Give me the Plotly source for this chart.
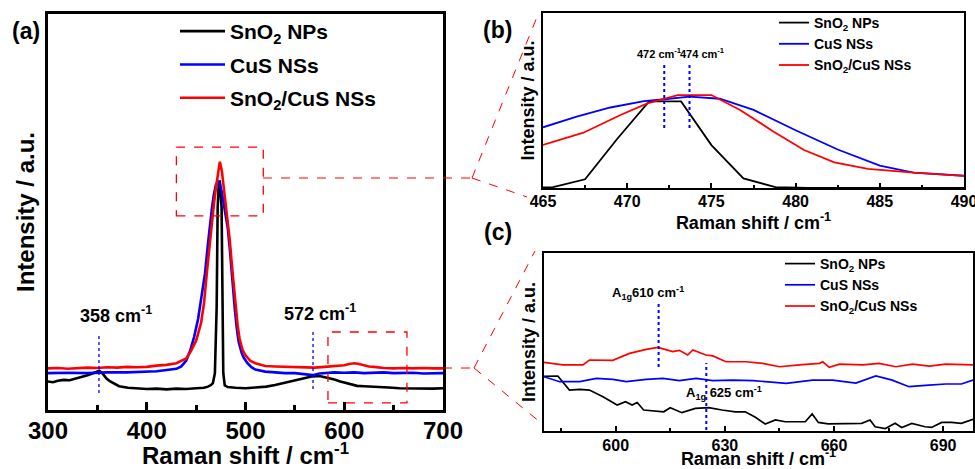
import plotly.graph_objects as go

W, H = 975, 469
FONT = "Liberation Sans, Arial, sans-serif"
BLACK, BLUE, RED = "#000000", "#0000ff", "#ff0000"


def fx(p):
    return p / W


def fy(p):
    return 1 - p / H


# ---------------- data: panel (a) ----------------
names = ["SnO<sub>2</sub> NPs", "CuS NSs", "SnO<sub>2</sub>/CuS NSs"]

a_black_x = [300, 305, 310, 316, 322, 330, 335, 340, 345, 350, 352, 356, 359, 363, 367, 372, 381, 390, 400,
             410, 420, 430, 440, 450, 458, 462, 465, 467, 469, 470.8, 471.8, 473, 474, 475.8, 476.5, 477.5,
             479, 482, 490, 500, 510, 521, 530, 540, 545, 555, 562, 568, 575, 582, 590, 596, 605, 613, 620,
             636, 645, 656, 670, 680, 690, 700]
a_black_y = [7.2, 7.0, 7.4, 7.6, 7.5, 8.0, 8.3, 8.8, 9.2, 9.8, 9.9, 9.0, 8.0, 7.2, 6.6, 6.0, 5.6, 5.4, 5.3,
             5.4, 5.2, 5.4, 5.3, 5.5, 5.6, 5.9, 6.3, 6.8, 9.3, 26, 51, 57.7, 57.7, 51, 26, 9.3,
             6.2, 5.8, 5.6, 5.5, 5.7, 5.9, 6.3, 6.9, 7.2, 7.8, 8.2, 8.5, 8.6, 8.2, 7.7, 7.2, 6.6, 6.1, 6.0,
             5.9, 5.7, 5.5, 5.4, 5.5, 5.4, 5.5]

a_blue_x = [300, 320, 340, 360, 380, 400, 410, 420, 430, 435, 440, 444, 448, 452, 456, 459, 462, 464, 466,
            468, 470, 472, 474, 476, 478, 480, 482, 484, 486, 489, 491, 493, 496, 498, 502, 506, 510, 520,
            530, 540, 550, 560, 568, 575, 582, 590, 600, 610, 620, 630, 640, 650, 660, 670, 680, 690, 700]
a_blue_y = [9.3, 9.4, 9.3, 9.5, 9.5, 9.6, 9.8, 10.1, 10.4, 11.0, 12.5, 15.0, 18.5, 23, 29, 34.5, 42, 47, 51,
            54.5, 56.8, 57.7, 57.2, 55, 52, 49, 46, 41, 34.5, 26, 21, 17.3, 14.5, 13.3, 11.8, 10.8, 10.2, 9.7,
            9.5, 9.3, 9.3, 9.0, 8.8, 9.2, 9.4, 9.5, 9.4, 9.5, 9.3, 9.4, 9.5, 9.3, 9.3, 9.4, 9.2, 9.3, 9.3]

a_red_x = [300, 310, 320, 330, 340, 350, 360, 370, 380, 390, 400, 410, 420, 430, 440, 445, 450, 455, 458,
           461, 464, 466, 468, 470, 472, 474, 476, 478, 480, 482, 484, 487, 490, 492, 494, 497, 500, 505,
           510, 520, 530, 540, 550, 560, 570, 580, 590, 600, 605, 610, 615, 620, 625, 630, 640, 650, 660,
           670, 680, 690, 700]
a_red_y = [10.5, 10.6, 10.4, 10.6, 10.7, 10.6, 10.8, 10.7, 10.9, 10.8, 10.9, 11.2, 11.4, 11.8, 13.0, 15.0,
           17.5, 22, 27, 35, 43, 47.5, 52, 56, 60, 62.7, 60.5, 56, 51.5, 47.5, 43, 34.5, 26, 21.5, 18, 15.2,
           13.8, 12.4, 11.8, 11.1, 11.0, 10.9, 10.8, 10.8, 10.7, 10.9, 11.1, 11.3, 11.6, 11.8, 11.6, 11.3,
           11.0, 10.9, 10.6, 10.5, 10.6, 10.5, 10.6, 10.5, 10.5]

# ---------------- data: panel (b) ----------------
b_black_x = [463.7, 465.6, 467.5, 469.4, 471.3, 473.2, 475.0, 476.9, 478.8, 480.7, 482.6, 484.5, 486.4, 488.3, 490.2]
b_black_y = [0, 0.5, 5, 28, 49.5, 49.5, 24.5, 5.5, 0.5, 0, 0, 0, 0, 0, 0]

b_blue_x = [465, 467, 469, 471, 472.2, 473.7, 475.5, 477.5, 480, 482.5, 485, 487, 490]
b_blue_y = [34.7, 40.8, 46, 49.6, 50.7, 52.2, 51, 44.6, 33, 22, 12.8, 8.8, 7]

b_red_x = [465, 467.4, 469.6, 471.2, 473, 475, 476.7, 478.7, 480.5, 482.3, 484.3, 487, 490]
b_red_y = [24.6, 31.6, 41.7, 48.4, 53.1, 53.1, 44.6, 32.2, 21.7, 14.7, 10.9, 8.8, 6.9]

# ---------------- data: panel (c) ----------------
c_red_x = [580.3, 585.5, 591, 592.8, 599.2, 603.8, 608.4, 611.6, 615.7, 617.5, 619.8, 621.2, 624.8, 626.7,
           630.3, 635.8, 640.4, 645, 650.5, 656, 656.9, 658.7, 661.5, 667.9, 672.4, 677, 681.6, 686.2,
           690.7, 698.2]
c_red_y = [38.6, 37.1, 37.1, 39.9, 39.7, 43.6, 45.9, 47, 44.6, 45.3, 42.7, 45.5, 42.7, 42.2,
           38.9, 38.9, 38, 36.1, 37.1, 38, 38.9, 35.8, 37.6, 37.1, 38, 36.1, 37.6, 36.5,
           37.6, 37.1]

c_blue_x = [580.3, 584.6, 590.1, 594.7, 599.2, 602.9, 608.4, 613, 617.5, 622.1, 626.7, 632.2, 637.7, 646.9,
            654.1, 659.6, 666, 671.5, 676, 680.6, 686.1, 690.7, 695, 698.2]
c_blue_y = [30.5, 27.7, 27.7, 29.6, 29.0, 27.7, 29.0, 29.6, 28.3, 29.6, 28.3, 28.6, 28.3, 26.8,
            28.6, 28.6, 26.9, 30.9, 28.6, 24.9, 25.8, 26.4, 26.4, 28.6]

c_black_x = [580.3, 584.1, 587.3, 590.1, 592.8, 596.5, 600.4, 602.7, 604.5, 605.9, 607.7, 613.2, 615, 618.2,
             621.9, 625.6, 629.2, 632.9, 635.6, 638.4, 641.1, 643.9, 646.6, 652.1, 654, 655.7, 658.4, 663.9,
             667.6, 669.9, 671.3, 674.1, 676.8, 678.6, 681.4, 685, 686.8, 689.6, 692.3, 695, 698.2]
c_black_y = [30.7, 30.9, 23, 23.4, 23, 19.3, 14.6, 16.5, 14.6, 16, 11.8, 10.8, 13.1, 10.3,
             12.7, 13.1, 11.8, 10.8, 10.8, 7.7, 3.9, 6.2, 5.2, 5.2, 9.6, 4.8, 4, 4,
             4.3, 6.2, 2.4, 1.4, 4.3, 2, 4.3, 2.4, 2, 4.8, 4.8, 4.3, 6.6]

fig = go.Figure()

panels = [
    ("x", "y", "legend", [(a_black_x, a_black_y), (a_blue_x, a_blue_y), (a_red_x, a_red_y)], 2.6, "a"),
    ("x2", "y2", "legend2", [(b_black_x, b_black_y), (b_blue_x, b_blue_y), (b_red_x, b_red_y)], 1.8, "b"),
    ("x3", "y3", "legend3", [(c_black_x, c_black_y), (c_blue_x, c_blue_y), (c_red_x, c_red_y)], 1.7, "c"),
]
colors = [BLACK, BLUE, RED]
for xa, ya, lg, series, lw, tag in panels:
    for i, (xs, ys) in enumerate(series):
        fig.add_trace(go.Scatter(x=xs, y=ys, mode="lines", name=names[i],
                                 line=dict(color=colors[i], width=lw),
                                 xaxis=xa, yaxis=ya, legend=lg, legendgroup=tag + str(i)))


# ---------------- axes ----------------
def xaxis(domain, rng, dtick, minor_dtick, tfs, title, tfs_title, lw, tlen, mlen, standoff, tstand):
    return dict(domain=domain, range=rng, dtick=dtick, tick0=0, ticks="inside", ticklen=tlen, tickwidth=lw,
                tickcolor="black", showline=True, linecolor="black", linewidth=lw, mirror=True,
                showgrid=False, zeroline=False, automargin=True, ticklabeloverflow="allow",
                minor=dict(dtick=minor_dtick, ticks="inside", ticklen=mlen, tickwidth=lw, tickcolor="black"),
                tickfont=dict(family=FONT, size=tfs, color="black", weight="bold"),
                ticklabelstandoff=standoff,
                title=dict(text=title, font=dict(family=FONT, size=tfs_title, color="black", weight="bold"),
                           standoff=tstand))


def yaxis(domain, anchor, title, size, lw, standoff):
    return dict(domain=domain, range=[0, 100], anchor=anchor, showticklabels=False, ticks="",
                showline=True, linecolor="black", linewidth=lw, mirror=True, showgrid=False, zeroline=False,
                automargin=False,
                title=dict(text=title, font=dict(family=FONT, size=size, color="black", weight="bold"),
                           standoff=standoff))


xt = "Raman shift / cm<sup>-1</sup>"
yt = "Intensity / a.u."
fig.update_layout(
    width=W, height=H, margin=dict(l=0, r=0, t=0, b=0, autoexpand=False),
    paper_bgcolor="white", plot_bgcolor="white",
    font=dict(family=FONT, color="black"),
    xaxis=dict(**xaxis([fx(48), fx(443)], [300, 700], 100, 50, 24, xt, 24, 2.5, 8, 5, -3, 12), anchor="y"),
    yaxis=yaxis([fy(410), fy(14)], "x", yt, 24, 2.5, 4),
    xaxis2=dict(**xaxis([fx(543), fx(964)], [465, 490], 5, 2.5, 16, xt, 18, 2, 5, 3, -2, 2), anchor="y2"),
    yaxis2=yaxis([fy(188), fy(13)], "x2", yt, 18, 2, 2),
    xaxis3=dict(**xaxis([fx(544), fx(973)], [580.3, 698.2], 30, 15, 16, xt, 18, 2, 5, 3, -1, 0), anchor="y3"),
    yaxis3=yaxis([fy(431), fy(253)], "x3", yt, 18, 2, 2),
    legend=dict(x=fx(175), y=fy(11), xanchor="left", yanchor="top", bgcolor="rgba(0,0,0,0)", itemwidth=45,
                font=dict(family=FONT, size=21, color="black", weight="bold"), tracegroupgap=3),
    legend2=dict(x=fx(774), y=fy(7), xanchor="left", yanchor="top", bgcolor="rgba(0,0,0,0)",
                 font=dict(family=FONT, size=14, color="black", weight="bold"), tracegroupgap=0),
    legend3=dict(x=fx(780), y=fy(248), xanchor="left", yanchor="top", bgcolor="rgba(0,0,0,0)",
                 font=dict(family=FONT, size=14, color="black", weight="bold"), tracegroupgap=0),
)

# ---------------- shapes ----------------
shapes = []
# zoom boxes in (a)
shapes.append(dict(type="rect", xref="x", yref="y", x0=430, x1=518, y0=49, y1=66.4,
                   line=dict(color=RED, width=1.3, dash="dash")))
shapes.append(dict(type="rect", xref="x", yref="y", x0=583.5, x1=663.5, y0=1.8, y1=19.7,
                   line=dict(color=RED, width=1.3, dash="dash")))
# connectors (pixel positions converted to paper)
for (x0, y0, x1, y1) in [(263, 178, 472, 178), (472, 178, 539, 12), (472, 178, 527, 197),
                         (407, 368, 474, 368), (474, 368, 535, 251), (474, 368, 540, 422)]:
    shapes.append(dict(type="line", xref="paper", yref="paper", x0=fx(x0), y0=fy(y0), x1=fx(x1), y1=fy(y1),
                       line=dict(color=RED, width=1, dash="dash")))
# blue dotted marker lines
for xr, yr, xv, ya, yb, w in [("x", "y", 351.6, 4.3, 19.4, 1.3), ("x", "y", 568.4, 5.3, 20.4, 1.3),
                              ("x2", "y2", 472.2, 34.3, 70.3, 2), ("x2", "y2", 473.7, 34.3, 70.3, 2),
                              ("x3", "y3", 611.8, 36, 71.3, 2), ("x3", "y3", 624.9, 0.5, 38.2, 2)]:
    shapes.append(dict(type="line", xref=xr, yref=yr, x0=xv, x1=xv, y0=ya, y1=yb,
                       line=dict(color=BLUE, width=w, dash="dot")))
fig.update_layout(shapes=shapes)


# ---------------- annotations ----------------
def ann(text, x, y, xref, yref, size):
    return dict(text=text, x=x, y=y, xref=xref, yref=yref, showarrow=False, xanchor="center", yanchor="middle",
                font=dict(family=FONT, size=size, color="black", weight="bold"))


annotations = [
    ann("(a)", fx(26), fy(31), "paper", "paper", 23),
    ann("(b)", fx(497), fy(30), "paper", "paper", 23),
    ann("(c)", fx(498), fy(232), "paper", "paper", 23),
    ann("358 cm<sup>-1</sup>", 368.9, 24, "x", "y", 18),
    ann("572 cm<sup>-1</sup>", 575.4, 24.5, "x", "y", 18),
    ann("472 cm<sup>-1</sup>", 471.9, 77, "x2", "y2", 11),
    ann("474 cm<sup>-1</sup>", 474.5, 77, "x2", "y2", 11),
    ann("A<sub>1g</sub>610 cm<sup>-1</sup>", 608.9, 77.7, "x3", "y3", 13),
    ann("A<sub>1g</sub> 625 cm<sup>-1</sup>", 629.7, 21.2, "x3", "y3", 13),
]
fig.update_layout(annotations=annotations)

fig.write_html("out.html", config={"displayModeBar": False},
               post_script="document.body.style.margin='0';")
